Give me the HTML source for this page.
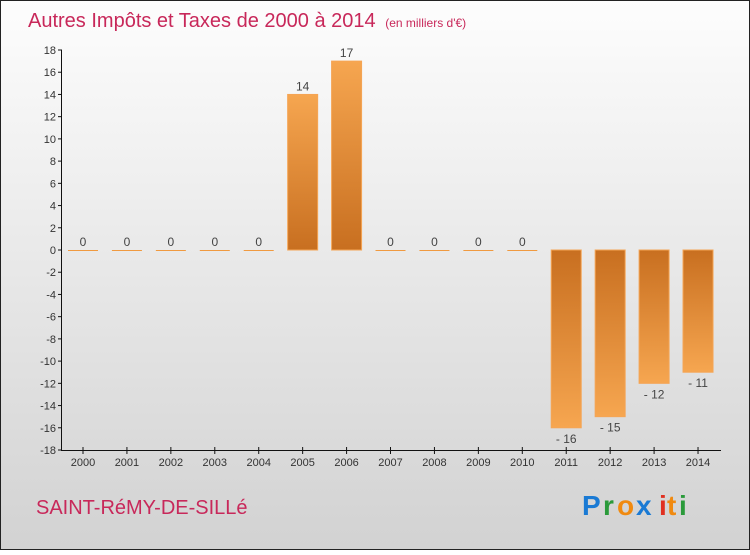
<!DOCTYPE html>
<html><head><meta charset="utf-8"><style>
body{margin:0;width:750px;height:550px;overflow:hidden;font-family:"Liberation Sans",sans-serif}
</style></head><body>
<svg id="chart" width="750" height="550" xmlns="http://www.w3.org/2000/svg">
<defs>
<linearGradient id="bg" x1="0" y1="0" x2="0" y2="1"><stop offset="0" stop-color="#fdfdfd"/><stop offset="1" stop-color="#d2d2d2"/></linearGradient>
<linearGradient id="gpos" x1="0" y1="0" x2="0" y2="1"><stop offset="0" stop-color="#f6a650"/><stop offset="1" stop-color="#c86f20"/></linearGradient>
<linearGradient id="gneg" x1="0" y1="0" x2="0" y2="1"><stop offset="0" stop-color="#c86f20"/><stop offset="1" stop-color="#f6a650"/></linearGradient>
</defs>
<rect x="0.5" y="0.5" width="749" height="549" fill="url(#bg)" stroke="#222"/>
<text x="28" y="27" font-size="20" fill="#c8285a">Autres Impôts et Taxes de 2000 à 2014 <tspan font-size="12" dx="4">(en milliers d'€)</tspan></text>
<text x="36" y="514" font-size="20" fill="#c8285a">SAINT-RéMY-DE-SILLé</text>
<g font-size="28" font-weight="bold">
<text x="582" y="515" fill="#1a7ad4">P</text><text x="603" y="515" fill="#2a9a3a">r</text><text x="617" y="515" fill="#f08a10">o</text><text x="636" y="515" fill="#1a7ad4">x</text><text x="659" y="515" fill="#e03020">i</text><text x="667" y="515" fill="#f08a10">t</text><text x="679" y="515" fill="#2a9a3a">i</text>
</g>
<g id="plot"></g>
</svg>
<script>
const categories=["2000","2001","2002","2003","2004","2005","2006","2007","2008","2009","2010","2011","2012","2013","2014"];
const values=[0,0,0,0,0,14,17,0,0,0,0,-16,-15,-12,-11];
const yTicks=[18,16,14,12,10,8,6,4,2,0,-2,-4,-6,-8,-10,-12,-14,-16,-18];
const ns="http://www.w3.org/2000/svg";
const g=document.getElementById('plot');
const y=v=>250-v*(400/36);
const x=i=>83+i*43.93;
function mk(t,a){const e=document.createElementNS(ns,t);for(const k in a)e.setAttribute(k,a[k]);g.appendChild(e);return e;}
let ax=mk('line',{x1:61.5,y1:50,x2:61.5,y2:450,stroke:'#111'});


let bx=mk('line',{x1:61,y1:450.5,x2:721,y2:450.5,stroke:'#111'});


yTicks.forEach(v=>{
 mk('line',{x1:58,x2:62,y1:y(v),y2:y(v),stroke:'#111'});
 const t=mk('text',{x:56,y:y(v)+4,'text-anchor':'end','font-size':11,fill:'#333'});
 t.textContent=v;
 
 
});
categories.forEach((c,i)=>{
 mk('line',{x1:x(i),x2:x(i),y1:447,y2:454,stroke:'#111'});
 const t=mk('text',{x:x(i),y:466,'text-anchor':'middle','font-size':11,fill:'#333'});
 t.textContent=c;
 
 
 const v=values[i];
 let r;
 if(v===0){r=mk('line',{x1:x(i)-15,x2:x(i)+15,y1:250.5,y2:250.5,stroke:'#f09a40'});}
 else{const top=Math.min(y(v),y(0)),h=Math.abs(y(v)-y(0));
  r=mk('rect',{x:x(i)-15,y:top,width:30,height:h,fill:v>0?'url(#gpos)':'url(#gneg)',stroke:'#f5a555','stroke-width':1});}
 
 
 const l=mk('text',{x:x(i),y:v>=0?y(v)-4:y(v)+15,'text-anchor':'middle','font-size':12,fill:'#444'});
 l.textContent=v<0?'- '+Math.abs(v):v;
 
 
});
</script>
</body></html>
